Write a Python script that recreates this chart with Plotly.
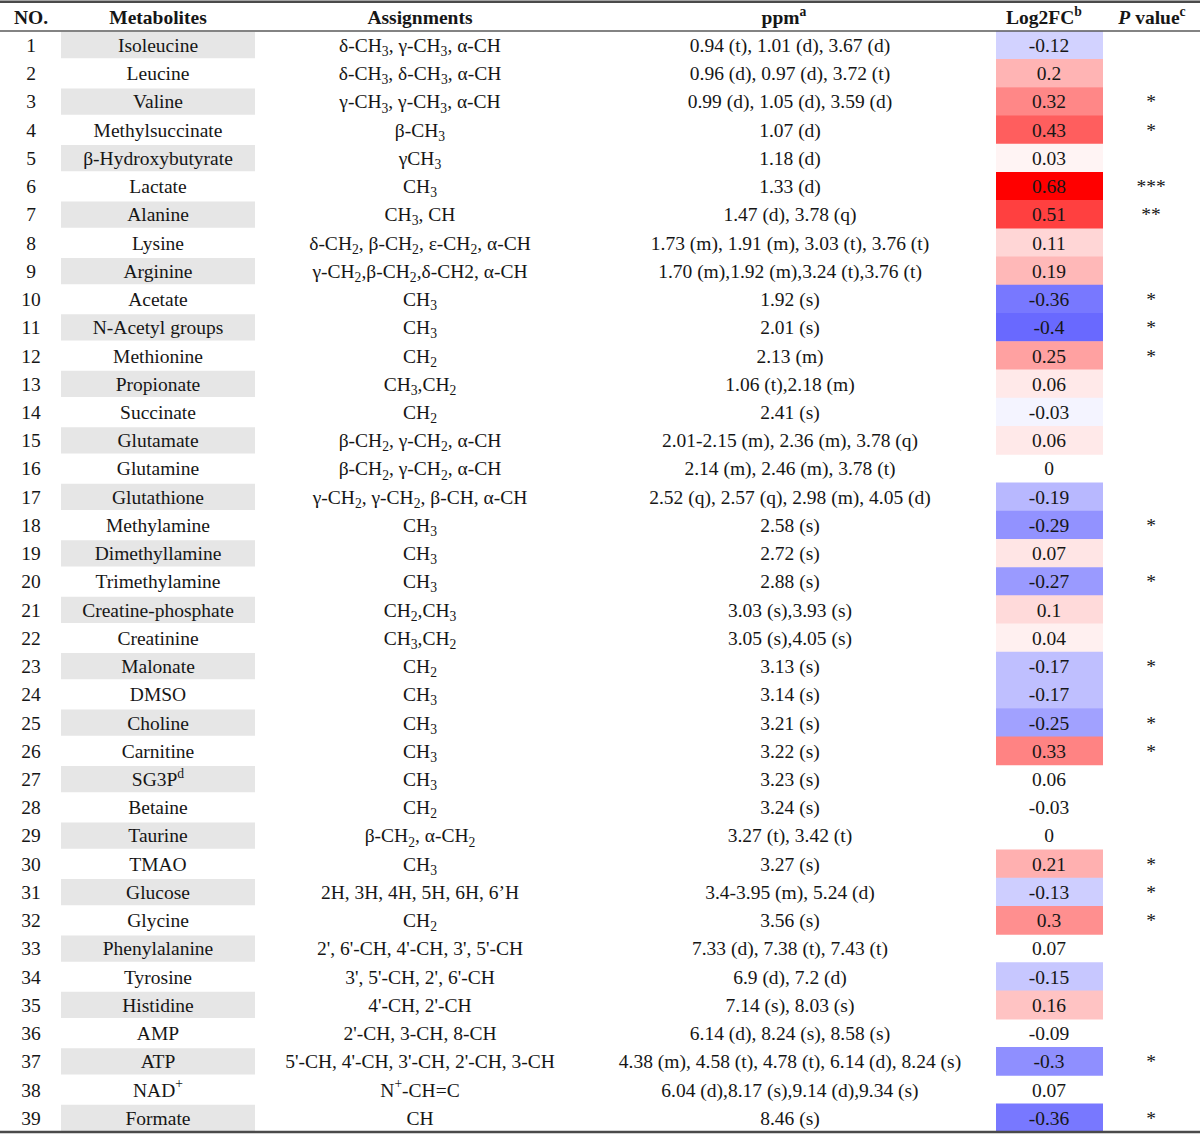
import plotly.graph_objects as go

# ---------------- data ----------------
numbers = list(range(1, 40))

metabolites = [
    "Isoleucine", "Leucine", "Valine", "Methylsuccinate", "β-Hydroxybutyrate",
    "Lactate", "Alanine", "Lysine", "Arginine", "Acetate",
    "N-Acetyl groups", "Methionine", "Propionate", "Succinate", "Glutamate",
    "Glutamine", "Glutathione", "Methylamine", "Dimethyllamine", "Trimethylamine",
    "Creatine-phosphate", "Creatinine", "Malonate", "DMSO", "Choline",
    "Carnitine", "SG3P<sup>d</sup>", "Betaine", "Taurine", "TMAO",
    "Glucose", "Glycine", "Phenylalanine", "Tyrosine", "Histidine",
    "AMP", "ATP", "NAD<sup>+</sup>", "Formate",
]

assignments = [
    "δ-CH₃, γ-CH₃, α-CH", "δ-CH₃, δ-CH₃, α-CH", "γ-CH₃, γ-CH₃, α-CH", "β-CH₃", "γCH₃",
    "CH₃", "CH₃, CH", "δ-CH₂, β-CH₂, ε-CH₂, α-CH", "γ-CH₂,β-CH₂,δ-CH2, α-CH", "CH₃",
    "CH₃", "CH₂", "CH₃,CH₂", "CH₂", "β-CH₂, γ-CH₂, α-CH",
    "β-CH₂, γ-CH₂, α-CH", "γ-CH₂, γ-CH₂, β-CH, α-CH", "CH₃", "CH₃", "CH₃",
    "CH₂,CH₃", "CH₃,CH₂", "CH₂", "CH₃", "CH₃",
    "CH₃", "CH₃", "CH₂", "β-CH₂, α-CH₂", "CH₃",
    "2H, 3H, 4H, 5H, 6H, 6’H", "CH₂", "2', 6'-CH, 4'-CH, 3', 5'-CH", "3', 5'-CH, 2', 6'-CH", "4'-CH, 2'-CH",
    "2'-CH, 3-CH, 8-CH", "5'-CH, 4'-CH, 3'-CH, 2'-CH, 3-CH", "N<sup>+</sup>-CH=C", "CH",
]

ppm = [
    "0.94 (t), 1.01 (d), 3.67 (d)", "0.96 (d), 0.97 (d), 3.72 (t)", "0.99 (d), 1.05 (d), 3.59 (d)",
    "1.07 (d)", "1.18 (d)", "1.33 (d)", "1.47 (d), 3.78 (q)",
    "1.73 (m), 1.91 (m), 3.03 (t), 3.76 (t)", "1.70 (m),1.92 (m),3.24 (t),3.76 (t)",
    "1.92 (s)", "2.01 (s)", "2.13 (m)", "1.06 (t),2.18 (m)", "2.41 (s)",
    "2.01-2.15 (m), 2.36 (m), 3.78 (q)", "2.14 (m), 2.46 (m), 3.78 (t)",
    "2.52 (q), 2.57 (q), 2.98 (m), 4.05 (d)", "2.58 (s)", "2.72 (s)", "2.88 (s)",
    "3.03 (s),3.93 (s)", "3.05 (s),4.05 (s)", "3.13 (s)", "3.14 (s)", "3.21 (s)",
    "3.22 (s)", "3.23 (s)", "3.24 (s)", "3.27 (t), 3.42 (t)", "3.27 (s)",
    "3.4-3.95 (m), 5.24 (d)", "3.56 (s)", "7.33 (d), 7.38 (t), 7.43 (t)", "6.9 (d), 7.2 (d)",
    "7.14 (s), 8.03 (s)", "6.14 (d), 8.24 (s), 8.58 (s)",
    "4.38 (m), 4.58 (t), 4.78 (t), 6.14 (d), 8.24 (s)", "6.04 (d),8.17 (s),9.14 (d),9.34 (s)",
    "8.46 (s)",
]

log2fc = [
    -0.12, 0.2, 0.32, 0.43, 0.03, 0.68, 0.51, 0.11, 0.19, -0.36,
    -0.4, 0.25, 0.06, -0.03, 0.06, 0, -0.19, -0.29, 0.07, -0.27,
    0.1, 0.04, -0.17, -0.17, -0.25, 0.33, 0.06, -0.03, 0, 0.21,
    -0.13, 0.3, 0.07, -0.15, 0.16, -0.09, -0.3, 0.07, -0.36,
]

# rows whose Log2FC cell is colour-coded in the original table
fc_highlighted = [
    True, True, True, True, True, True, True, True, True, True,
    True, True, True, True, True, False, True, True, True, True,
    True, True, True, True, True, True, False, False, False, True,
    True, True, False, True, True, False, True, False, True,
]

pvalue_marks = [
    "", "", "*", "*", "", "***", "**", "", "", "*",
    "*", "*", "", "", "", "", "", "*", "", "*",
    "", "", "*", "", "*", "*", "", "", "", "*",
    "*", "*", "", "", "", "", "*", "", "*",
]

headers = ["NO.", "Metabolites", "Assignments", "ppm<sup>a</sup>",
           "Log2FC<sup>b</sup>", "<i>P</i> value<sup>c</sup>"]

# ---------------- layout constants ----------------
W, H = 1200, 1134
Y_TOP, Y_BOT = -0.6, 39.57          # y-axis (row units) range
TEXT_DY = 0.07                      # small downward nudge of text baselines
COL_X = [31, 158, 420, 790, 1049, 1151]
HEAD_X = [31, 158, 420, 784, 1044, 1152]
BAND_L, BAND_R = 61, 255
FC_L, FC_R = 996, 1103
FONT = "Liberation Serif, Times New Roman, serif"
FSIZE = 19.5
TXT = "#161616"


def fmt(s):
    return s.replace("₂", "<sub>2</sub>").replace("₃", "<sub>3</sub>")


fig = go.Figure()

# grey bands behind odd metabolite names
odd = [n for n in numbers if n % 2 == 1]
fig.add_trace(go.Bar(
    y=odd, x=[BAND_R - BAND_L] * len(odd), base=BAND_L, orientation="h",
    width=0.93, marker=dict(color="#e6e6e6", line_width=0),
    hoverinfo="skip", showlegend=False))

# colour-coded Log2FC cells
hl_rows = [n for n, h in zip(numbers, fc_highlighted) if h]
hl_vals = [v for v, h in zip(log2fc, fc_highlighted) if h]
fig.add_trace(go.Bar(
    y=hl_rows, x=[FC_R - FC_L] * len(hl_rows), base=FC_L, orientation="h",
    width=1.02,
    marker=dict(color=hl_vals, cmin=-0.68, cmax=0.68,
                colorscale=[[0, "rgb(0,0,255)"], [0.5, "rgb(255,255,255)"], [1, "rgb(255,0,0)"]],
                line_width=0, showscale=False),
    hoverinfo="skip", showlegend=False))

columns = [
    [str(n) for n in numbers],
    metabolites,
    [fmt(a) for a in assignments],
    ppm,
    [f"{v:g}" for v in log2fc],
    pvalue_marks,
]
for cx, col in zip(COL_X, columns):
    fig.add_trace(go.Scatter(
        x=[cx] * len(numbers), y=[n + TEXT_DY for n in numbers], mode="text", text=col,
        textposition="middle center",
        textfont=dict(family=FONT, size=FSIZE, color=TXT),
        hoverinfo="skip", showlegend=False))

# header
fig.add_trace(go.Scatter(
    x=HEAD_X, y=[TEXT_DY] * len(headers), mode="text",
    text=[f"<b>{h}</b>" for h in headers], textposition="middle center",
    textfont=dict(family=FONT, size=FSIZE, color=TXT),
    hoverinfo="skip", showlegend=False))

# rules
fig.add_shape(type="line", xref="x", yref="y", x0=0, x1=W, y0=-0.535, y1=-0.535,
              line=dict(color="#4a4a4a", width=2.5))
fig.add_shape(type="line", xref="x", yref="y", x0=0, x1=W, y0=0.5, y1=0.5,
              line=dict(color="#5a5a5a", width=1.5))
fig.add_shape(type="line", xref="x", yref="y", x0=0, x1=W, y0=39.5, y1=39.5,
              line=dict(color="#4a4a4a", width=2.5))

fig.update_layout(
    width=W, height=H, margin=dict(l=0, r=0, t=0, b=0),
    paper_bgcolor="white", plot_bgcolor="white",
    barmode="overlay", showlegend=False,
    xaxis=dict(range=[0, W], visible=False, fixedrange=True),
    yaxis=dict(range=[Y_BOT, Y_TOP], visible=False, fixedrange=True),
)

fig.write_html("out.html", config={"displayModeBar": False},
               post_script="document.body.style.margin='0';document.body.style.overflow='hidden';")
